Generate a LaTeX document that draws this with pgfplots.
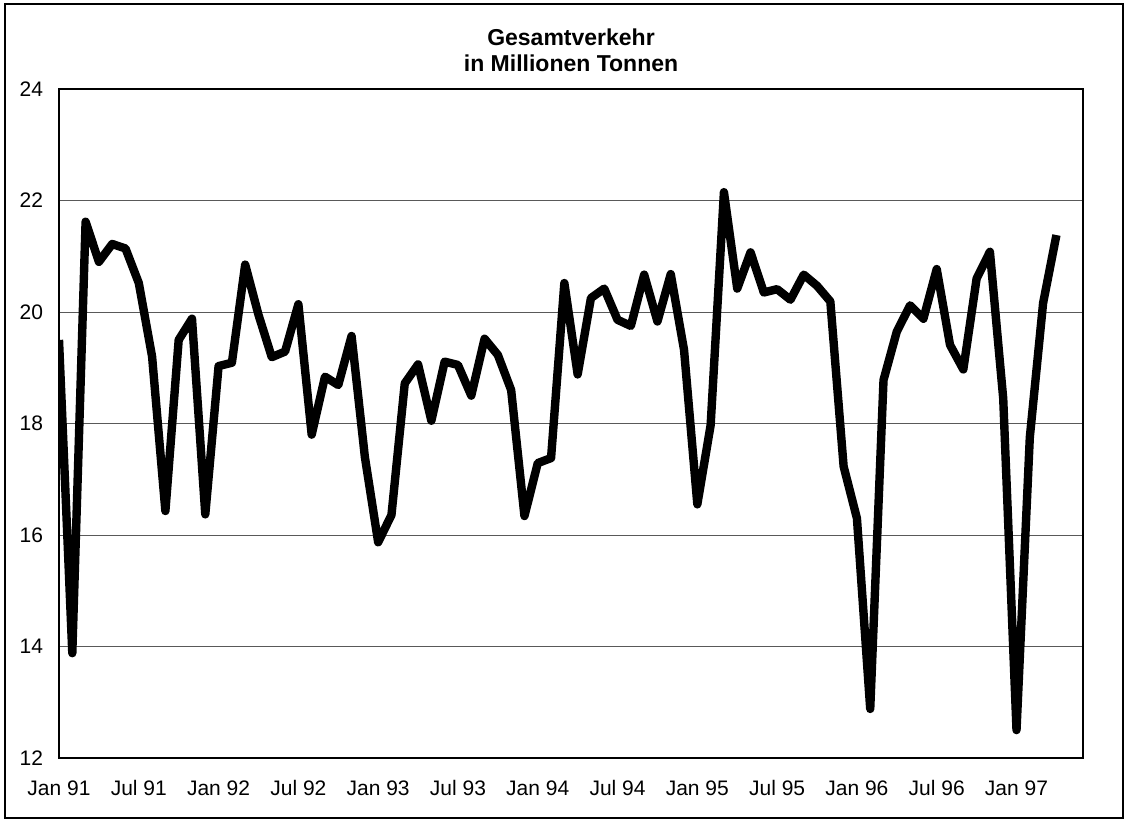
\documentclass[border=0pt]{standalone}
\usepackage{fontspec}
\setmainfont{Liberation Sans}
\usepackage{pgfplots}
\pgfplotsset{compat=1.18}
\begin{document}
\begin{tikzpicture}
\useasboundingbox (0pt,0pt) rectangle (562.5pt,410.5pt);
\draw[line width=1pt] (2.5pt,1.5pt) rectangle (561.5pt,408.5pt);
\node[align=center, font=\bfseries\fontsize{11.5}{13.2}\selectfont] at (285.5pt,385.5pt) {Gesamtverkehr\\in Millionen Tonnen};
\begin{axis}[
  at={(29.5pt,31.5pt)}, anchor=south west,
  scale only axis, width=512pt, height=334.5pt,
  xmin=0, xmax=77, ymin=12, ymax=24,
  ytick={12,14,...,24},
  xtick={0,6,...,72},
  xticklabels={Jan 91,Jul 91,Jan 92,Jul 92,Jan 93,Jul 93,Jan 94,Jul 94,Jan 95,Jul 95,Jan 96,Jul 96,Jan 97},
  ymajorgrids, grid style={black!65, line width=0.5pt},
  axis line style={line width=1.3pt},
  major tick length=0pt,
  tick label style={font=\fontsize{10.5}{12}\selectfont},
  /pgf/number format/assume math mode=true,
  xticklabel style={anchor=base, yshift=-18.5pt},
  yticklabel style={xshift=-4.5pt},
]
\addplot[black, line width=4.2pt, line join=round, mark=none] coordinates {
(0,19.5) (1,13.88) (2,21.62) (3,20.9) (4,21.22) (5,21.14) (6,20.52) (7,19.2)
(8,16.43) (9,19.5) (10,19.88) (11,16.37) (12,19.03) (13,19.09) (14,20.85) (15,19.95)
(16,19.19) (17,19.29) (18,20.14) (19,17.8) (20,18.84) (21,18.69) (22,19.57) (23,17.4)
(24,15.87) (25,16.36) (26,18.72) (27,19.06) (28,18.05) (29,19.11) (30,19.05) (31,18.5)
(32,19.52) (33,19.23) (34,18.6) (35,16.34) (36,17.29) (37,17.38) (38,20.52) (39,18.88)
(40,20.25) (41,20.42) (42,19.86) (43,19.75) (44,20.67) (45,19.83) (46,20.68) (47,19.32)
(48,16.55) (49,17.97) (50,22.15) (51,20.42) (52,21.07) (53,20.35) (54,20.41) (55,20.22)
(56,20.67) (57,20.47) (58,20.19) (59,17.23) (60,16.3) (61,12.88) (62,18.78) (63,19.65)
(64,20.12) (65,19.88) (66,20.77) (67,19.41) (68,18.97) (69,20.6) (70,21.08) (71,18.45)
(72,12.5) (73,17.75) (74,20.16) (75,21.38)
};
\end{axis}
\end{tikzpicture}
\end{document}
